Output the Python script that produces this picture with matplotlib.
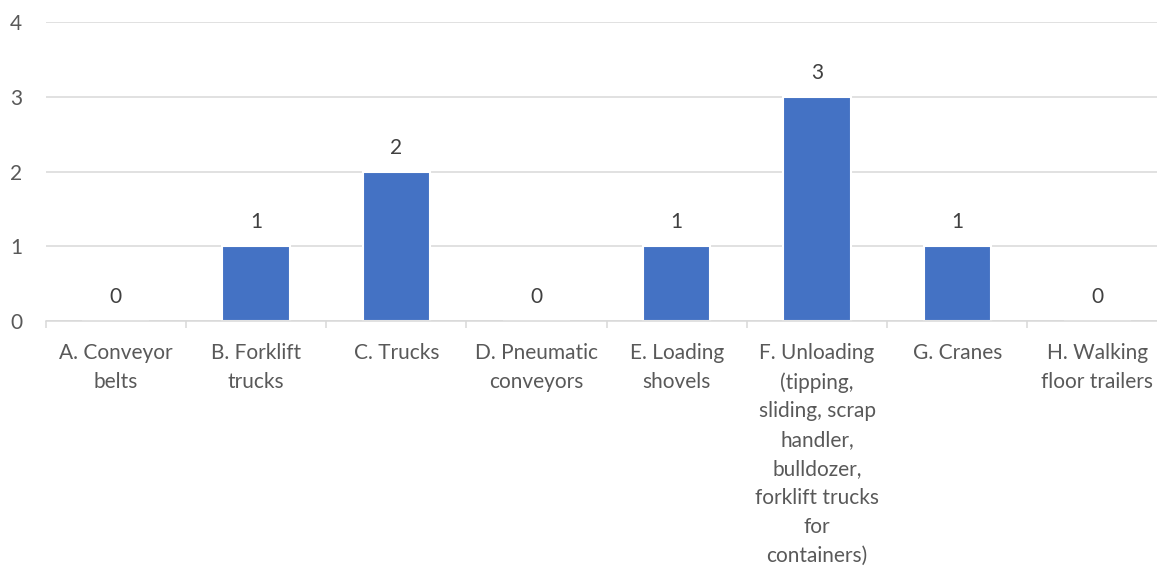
import numpy as np
import matplotlib.pyplot as plt

categories = ['A. Conveyor\nbelts', 'B. Forklift\ntrucks', 'C. Trucks', 'D. Pneumatic\nconveyors',
              'E. Loading\nshovels',
              'F. Unloading\n(tipping,\nsliding, scrap\nhandler,\nbulldozer,\nforklift trucks\nfor\ncontainers)',
              'G. Cranes', 'H. Walking\nfloor trailers']
counts = [0, 1, 2, 0, 1, 3, 1, 0]

plt.rcParams['font.family'] = ['Lato', 'DejaVu Sans']
text_col = '#595959'
grid_col = '#d9d9d9'

fig = plt.figure(figsize=(11.57, 5.68), dpi=100)
ax = fig.add_axes([45.7 / 1157, 1 - 320.7 / 568, (1167.6 - 45.7) / 1157, (320.7 - 22.3) / 568])

x = np.arange(len(categories))
bars = ax.bar(x, counts, width=0.48, color='#4472C4', edgecolor='white', linewidth=1.5, zorder=3)
for xi, v in zip(x, counts):
    ax.annotate(str(v), (xi, v), xytext=(0, 10), textcoords='offset points',
                ha='center', va='bottom', fontsize=15, color='#404040')

ax.set_xlim(-0.5, 7.5)
ax.set_ylim(0, 4)
ax.set_yticks(range(5))
ax.yaxis.grid(True, color=grid_col, linewidth=1.1, zorder=0)
ax.set_axisbelow(True)

ax.set_xticks(x)
ax.set_xticklabels(categories, linespacing=1.55)
ax.set_xticks(np.arange(-0.5, 7.5, 1), minor=True)
ax.tick_params(axis='x', which='major', length=0, pad=16, labelsize=15, labelcolor=text_col)
ax.tick_params(axis='x', which='minor', length=5, width=1.1, color=grid_col)
ax.tick_params(axis='y', length=0, pad=17, labelsize=15, labelcolor=text_col)

for s in ['top', 'right', 'left']:
    ax.spines[s].set_visible(False)
ax.spines['bottom'].set_color(grid_col)
ax.spines['bottom'].set_linewidth(1.1)
ax.spines['bottom'].set_zorder(4)

fig.savefig('out.png', dpi=100)
